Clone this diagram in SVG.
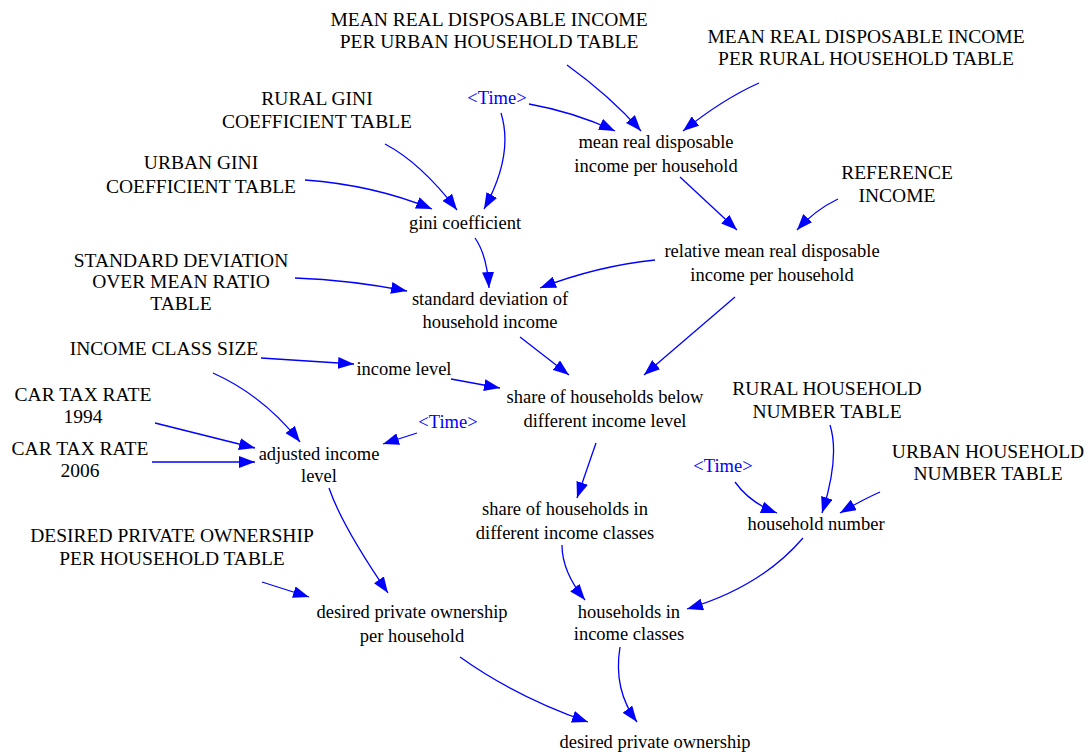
<svg xmlns="http://www.w3.org/2000/svg" width="1088" height="756" viewBox="0 0 1088 756">
<defs>
<style>
text{font-family:"Liberation Serif","Times New Roman",serif;text-anchor:middle;fill:#000}
.lc{font-size:18.5px}
.uc{font-size:19.5px}
.tm{font-size:18.5px;fill:#0000FF}
.ln path{fill:none;stroke:#0000FF;stroke-width:1.3;marker-end:url(#ah)}
</style>
<marker id="ah" markerUnits="userSpaceOnUse" markerWidth="17" markerHeight="12" refX="16" refY="6" orient="auto">
<path d="M0,0 L16,6 L0,12 z" fill="#0000FF"/>
</marker>
</defs>
<rect width="1088" height="756" fill="#fff"/>
<g id="connectors" class="ln">
<path d="M567,65 Q610,96 641,131"/>
<path d="M759,83 Q723,99 683,131"/>
<path d="M529,104 Q574,112 615,131"/>
<path d="M385,144 Q421,163 457,210"/>
<path d="M501,113 Q514,155 484,209"/>
<path d="M305,180 Q374,185 432,209"/>
<path d="M680,177 L737,230"/>
<path d="M838,199 Q815,210 797,230"/>
<path d="M475,238 Q487,255 489,288"/>
<path d="M655,260 Q597,266 540,288"/>
<path d="M295,278 Q350,280 407,291"/>
<path d="M520,337 L569,375"/>
<path d="M735,297 L644,375"/>
<path d="M261,358 L354,364"/>
<path d="M451,379 L500,388"/>
<path d="M213,373 Q264,396 300,442"/>
<path d="M155,423 L255,448"/>
<path d="M152,462 L255,462"/>
<path d="M417,433 L383,444"/>
<path d="M596,443 L577,498"/>
<path d="M830,425 Q840,457 822,513"/>
<path d="M735,482 Q750,503 777,513"/>
<path d="M880,492 Q862,500 840,513"/>
<path d="M329,488 Q342,526 388,593"/>
<path d="M262,582 L309,597"/>
<path d="M562,545 Q562,572 585,600"/>
<path d="M803,538 Q761,587 687,609"/>
<path d="M460,657 Q516,697 588,722"/>
<path d="M620,647 Q613,690 637,722"/>
</g>
<g id="mean_urban_table"><text class="uc" x="489" y="26">MEAN REAL DISPOSABLE INCOME</text><text class="uc" x="489" y="48">PER URBAN HOUSEHOLD TABLE</text></g>
<g id="mean_rural_table"><text class="uc" x="866" y="43">MEAN REAL DISPOSABLE INCOME</text><text class="uc" x="866" y="65">PER RURAL HOUSEHOLD TABLE</text></g>
<g id="time1"><text class="tm" x="497" y="104">&lt;Time&gt;</text></g>
<g id="rural_gini_table"><text class="uc" x="317" y="105">RURAL GINI</text><text class="uc" x="317" y="128">COEFFICIENT TABLE</text></g>
<g id="mean_real_income"><text class="lc" x="656" y="148">mean real disposable</text><text class="lc" x="656" y="172">income per household</text></g>
<g id="urban_gini_table"><text class="uc" x="201" y="169">URBAN GINI</text><text class="uc" x="201" y="193">COEFFICIENT TABLE</text></g>
<g id="reference_income"><text class="uc" x="897" y="179">REFERENCE</text><text class="uc" x="897" y="202">INCOME</text></g>
<g id="gini_coefficient"><text class="lc" x="465" y="229">gini coefficient</text></g>
<g id="relative_income"><text class="lc" x="772" y="257">relative mean real disposable</text><text class="lc" x="772" y="281">income per household</text></g>
<g id="std_table"><text class="uc" x="181" y="267">STANDARD DEVIATION</text><text class="uc" x="181" y="288">OVER MEAN RATIO</text><text class="uc" x="181" y="310">TABLE</text></g>
<g id="std_dev"><text class="lc" x="490" y="305">standard deviation of</text><text class="lc" x="490" y="328">household income</text></g>
<g id="income_class_size"><text class="uc" x="164" y="355">INCOME CLASS SIZE</text></g>
<g id="income_level"><text class="lc" x="404" y="375">income level</text></g>
<g id="car_tax_1994"><text class="uc" x="83" y="401">CAR TAX RATE</text><text class="uc" x="83" y="423">1994</text></g>
<g id="share_below"><text class="lc" x="605" y="403">share of households below</text><text class="lc" x="605" y="427">different income level</text></g>
<g id="time2"><text class="tm" x="448" y="428">&lt;Time&gt;</text></g>
<g id="rural_hh_table"><text class="uc" x="827" y="395">RURAL HOUSEHOLD</text><text class="uc" x="827" y="418">NUMBER TABLE</text></g>
<g id="car_tax_2006"><text class="uc" x="80" y="455">CAR TAX RATE</text><text class="uc" x="80" y="477">2006</text></g>
<g id="adjusted_income_level"><text class="lc" x="319" y="460">adjusted income</text><text class="lc" x="319" y="482">level</text></g>
<g id="urban_hh_table"><text class="uc" x="988" y="458">URBAN HOUSEHOLD</text><text class="uc" x="988" y="480">NUMBER TABLE</text></g>
<g id="time3"><text class="tm" x="723" y="472">&lt;Time&gt;</text></g>
<g id="household_number"><text class="lc" x="816" y="530">household number</text></g>
<g id="share_classes"><text class="lc" x="565" y="515">share of households in</text><text class="lc" x="565" y="539">different income classes</text></g>
<g id="desired_table"><text class="uc" x="172" y="542">DESIRED PRIVATE OWNERSHIP</text><text class="uc" x="172" y="565">PER HOUSEHOLD TABLE</text></g>
<g id="desired_per_household"><text class="lc" x="412" y="618">desired private ownership</text><text class="lc" x="412" y="642">per household</text></g>
<g id="households_in_classes"><text class="lc" x="629" y="618">households in</text><text class="lc" x="629" y="640">income classes</text></g>
<g id="desired_private_ownership"><text class="lc" x="655" y="748">desired private ownership</text></g>
</svg>
